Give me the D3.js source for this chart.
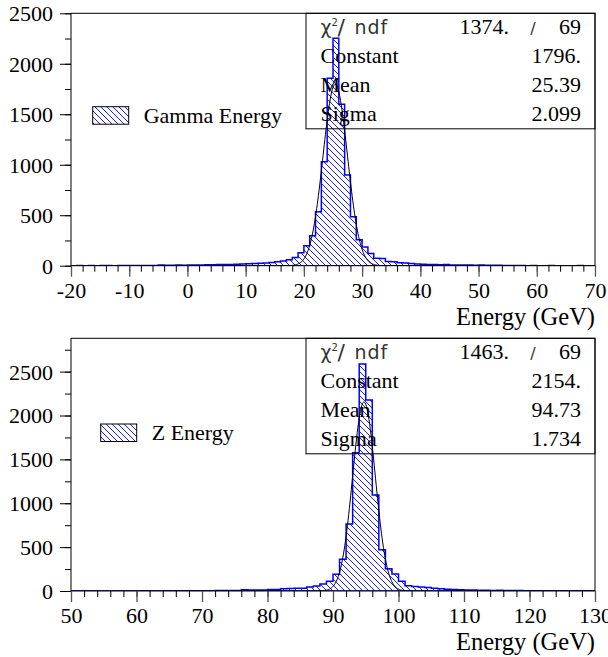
<!DOCTYPE html>
<html>
<head>
<meta charset="utf-8">
<script src="https://cdn.jsdelivr.net/npm/d3@7/dist/d3.min.js"></script>
<style>
  body { margin: 0; background: #fff; }
  text { font-family: "Liberation Serif", "Times New Roman", serif; font-size: 22px; fill: #000; }
  .sans { font-family: "DejaVu Sans", sans-serif; font-size: 19px; fill: #333; }
</style>
</head>
<body>
<div class="canvas"></div>
<script>
// ---- data ----
// gamma histogram: 1 GeV bins starting at -20
const gammaStart = -20;
const gammaCounts = [
  0, 1, 0, 1, 0, 1, 1, 0, 1, 2,
  1, 2, 2, 3, 3, 6, 5, 4, 6, 5,
  7, 8, 7, 9, 10, 11, 12, 13, 15, 16,
  19, 21, 24, 27, 31, 38, 47, 58, 80, 128,
  198, 297, 535, 1030, 1856, 2252, 1599, 898, 485, 258,
  185, 122, 75, 72, 42, 38, 30, 27, 21, 18,
  14, 12, 11, 10, 13, 8, 7, 6, 6, 5,
  6, 4, 4, 5, 3, 3, 1, 1, 0, 1,
  0, 0, 1, 0, 0, 0, 0, 1, 0, 0
];
// Z histogram: 1 GeV bins starting at 50
const zStart = 50;
const zCounts = [
  0, 0, 1, 0, 0, 1, 0, 1, 1, 0,
  1, 2, 1, 1, 2, 2, 3, 2, 3, 3,
  4, 4, 5, 5, 6, 6, 14, 12, 10, 12,
  16, 18, 25, 28, 30, 32, 45, 58, 80, 110,
  192, 361, 764, 1577, 2588, 2177, 1094, 470, 255, 195,
  112, 60, 50, 45, 40, 30, 25, 20, 17, 14,
  12, 10, 9, 8, 7, 8, 6, 5, 5, 4,
  4, 3, 3, 3, 2, 2, 3, 2, 2, 2
];

const gammaXTicks = [-20, -10, 0, 10, 20, 30, 40, 50, 60, 70];
const zXTicks = [50, 60, 70, 80, 90, 100, 110, 120, 130];
const gammaYTicks = [0, 500, 1000, 1500, 2000, 2500];
const zYTicks = [0, 500, 1000, 1500, 2000, 2500];

// fit results (constant, mean, sigma) and chi2 / ndf
const gammaFit = [1796, 25.39, 2.099];
const zFit = [2154, 94.73, 1.734];
const gammaChi2 = ["1374.", "69"];
const zChi2 = ["1463.", "69"];
const gammaFitText = ["1796.", "25.39", "2.099"];
const zFitText = ["2154.", "94.73", "1.734"];
const statNames = ["Constant", "Mean", "Sigma"];

const W = 608, H = 657;
const left = 71, right = 595;

const svg = d3.select(".canvas").append("svg")
    .attr("width", W)
    .attr("height", H);

// hatch pattern  \\\
const defs = svg.append("defs");
const pat = defs.append("pattern")
    .attr("id", "hatch")
    .attr("patternUnits", "userSpaceOnUse")
    .attr("width", 6)
    .attr("height", 6);
pat.append("path")
    .attr("d", "M-1,-1 L7,7 M-1,5 L1,7 M5,-1 L7,1")
    .attr("stroke", "#0000ff")
    .attr("stroke-width", 0.9);

function drawPanel(o) {
  const x = d3.scaleLinear().domain(o.xDomain).range([left, right]);
  const y = d3.scaleLinear().domain([0, o.yMax]).range([o.bottom, o.top]);
  const g = svg.append("g");

  g.append("clipPath").attr("id", o.id + "clip")
    .append("rect")
      .attr("x", left).attr("y", o.top)
      .attr("width", right - left).attr("height", o.bottom - o.top);

  // step outline of the histogram
  const pts = [[x(o.start), y(0)]];
  o.counts.forEach(function(c, i) {
    pts.push([x(o.start + i), y(c)]);
    pts.push([x(o.start + i + 1), y(c)]);
  });
  pts.push([x(o.start + o.counts.length), y(0)]);

  const plot = g.append("g").attr("clip-path", "url(#" + o.id + "clip)");
  plot.append("path")
      .attr("d", d3.line()(pts) + "Z")
      .attr("fill", "url(#hatch)")
      .attr("stroke", "#0000ff")
      .attr("stroke-width", 1.5);

  // gaussian fit curve
  const gauss = function(e) {
    return o.fit[0] * Math.exp(-0.5 * Math.pow((e - o.fit[1]) / o.fit[2], 2));
  };
  plot.append("path")
      .datum(d3.range(o.xDomain[0], o.xDomain[1] + 0.001, 0.1))
      .attr("fill", "none")
      .attr("stroke", "#000")
      .attr("stroke-width", 1)
      .attr("d", d3.line().x(function(e) { return x(e); }).y(function(e) { return y(gauss(e)); }));

  // frame
  g.append("rect")
      .attr("x", left).attr("y", o.top)
      .attr("width", right - left).attr("height", o.bottom - o.top)
      .attr("fill", "none")
      .attr("stroke", "#000")
      .attr("stroke-width", 1);

  // x axis: minor every 2, major every 10
  const xMinor = d3.range(o.xDomain[0], o.xDomain[1] + 0.001, 2);
  g.append("g")
      .attr("transform", "translate(0," + o.bottom + ")")
      .call(d3.axisBottom(x).tickValues(xMinor).tickSize(6).tickFormat(""))
      .call(function(a) { a.select(".domain").remove(); });
  const xa = g.append("g")
      .attr("transform", "translate(0," + o.bottom + ")")
      .call(d3.axisBottom(x).tickValues(o.xTicks).tickSize(11).tickFormat(function(d) { return String(d); }));
  xa.select(".domain").remove();
  xa.selectAll("line").attr("stroke", "#555").attr("stroke-width", 1.3);
  xa.selectAll("text")
      .attr("y", 32).attr("dy", 0)
      .style("font-family", "Liberation Serif").style("font-size", "22px");

  // y axis: minor every 250
  const yMinor = d3.range(0, o.yMax + 1, 250);
  g.append("g")
      .attr("transform", "translate(" + left + ",0)")
      .call(d3.axisLeft(y).tickValues(yMinor).tickSize(6).tickFormat(""))
      .call(function(a) { a.select(".domain").remove(); });
  const ya = g.append("g")
      .attr("transform", "translate(" + left + ",0)")
      .call(d3.axisLeft(y).tickValues(o.yTicks).tickSize(11).tickPadding(7).tickFormat(function(d) { return String(d); }));
  ya.select(".domain").remove();
  ya.selectAll("text")
      .attr("dy", "0.34em")
      .style("font-family", "Liberation Serif").style("font-size", "22px");

  // axis title
  g.append("text")
      .attr("x", right)
      .attr("y", o.bottom + 59)
      .attr("text-anchor", "end")
      .style("font-size", "24.5px")
      .text("Energy (GeV)");

  // legend
  g.append("rect")
      .attr("x", o.legX).attr("y", o.legY)
      .attr("width", 36).attr("height", 17.5)
      .attr("fill", "url(#hatch)")
      .attr("stroke", "#000")
      .attr("stroke-width", 1);
  g.append("text")
      .attr("x", o.legX + 51)
      .attr("y", o.legY + 16)
      .text(o.label);

  // stats box
  const bx = 306, bw = right - bx, bh = 115.5;
  g.append("rect")
      .attr("x", bx).attr("y", o.top)
      .attr("width", bw).attr("height", bh)
      .attr("fill", "none")
      .attr("stroke", "#000")
      .attr("stroke-width", 1);

  const rowY = [21, 50, 79, 108].map(function(d) { return o.top + d; });
  const tx = 320.5, vx = 581;

  g.append("text").attr("class", "sans").attr("x", tx).attr("y", rowY[0]).text("\u03c7");
  g.append("text").attr("class", "sans").attr("x", tx + 11).attr("y", rowY[0] - 8)
      .style("font-size", "10px").text("2");
  g.append("text").attr("class", "sans").attr("x", tx + 17).attr("y", rowY[0] + 1)
      .style("font-size", "22px").text("/");
  g.append("text").attr("class", "sans").attr("x", tx + 34).attr("y", rowY[0])
      .style("letter-spacing", "1px").text("ndf");
  g.append("text").attr("x", 509).attr("y", rowY[0]).attr("text-anchor", "end").text(o.chi2[0]);
  g.append("text").attr("class", "sans").attr("x", 533).attr("y", rowY[0])
      .attr("text-anchor", "middle").style("font-size", "16px").text("/");
  g.append("text").attr("x", vx).attr("y", rowY[0]).attr("text-anchor", "end").text(o.chi2[1]);

  statNames.forEach(function(n, i) {
    g.append("text").attr("x", tx).attr("y", rowY[i + 1]).text(n);
    g.append("text").attr("x", vx).attr("y", rowY[i + 1])
        .attr("text-anchor", "end").text(o.fitText[i]);
  });
}

drawPanel({
  id: "gamma", top: 13.3, bottom: 265.7, yMax: 2500,
  xDomain: [-20, 70], xTicks: gammaXTicks, yTicks: gammaYTicks,
  start: gammaStart, counts: gammaCounts,
  fit: gammaFit, chi2: gammaChi2, fitText: gammaFitText,
  label: "Gamma Energy", legX: 92.7, legY: 106.7
});

drawPanel({
  id: "z", top: 338.3, bottom: 591, yMax: 2880,
  xDomain: [50, 130], xTicks: zXTicks, yTicks: zYTicks,
  start: zStart, counts: zCounts,
  fit: zFit, chi2: zChi2, fitText: zFitText,
  label: "Z Energy", legX: 100.7, legY: 424
});
</script>
</body>
</html>
